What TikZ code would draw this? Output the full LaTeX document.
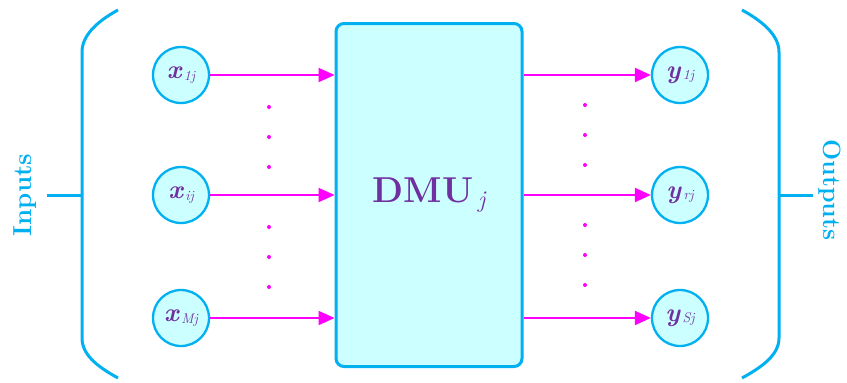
\documentclass[tikz,border=0pt]{standalone}
\usepackage{fontspec}
\usetikzlibrary{arrows.meta}
\definecolor{cy}{RGB}{0,176,240}
\definecolor{cyfill}{RGB}{204,255,255}
\definecolor{mag}{RGB}{255,0,255}
\definecolor{purp}{RGB}{112,48,160}
\newcommand{\varlab}[2]{{\fontsize{26}{26}\selectfont\bfseries\itshape #1}\hspace{2.5pt}\raisebox{-1.5pt}{\fontsize{14}{14}\selectfont\itshape #2}}
\begin{document}
\begin{tikzpicture}[x=1pt,y=-1pt,
  var/.style={circle,draw=cy,fill=cyfill,line width=2.3pt,minimum size=56pt,inner sep=0pt,text=purp},
  brk/.style={draw=cy,line width=3pt},
  flow/.style={draw=mag,line width=2pt,-{Triangle[length=16pt,width=14pt]}},
  dotm/.style={fill=mag}]
\useasboundingbox (0,0) rectangle (847,383);
% box
\node[draw=cy,fill=cyfill,line width=3pt,rounded corners=8pt,minimum width=186pt,minimum height=343pt,inner sep=0pt] (dmu) at (429,195)
  {\color{purp}{\fontsize{36}{36}\selectfont\bfseries DMU}\hspace{5pt}\raisebox{-5pt}{\fontsize{24}{24}\selectfont\itshape j}};
% inputs
\node[var] (x1) at (181,75) {\varlab{x}{1j}};
\node[var] (xi) at (181,195) {\varlab{x}{ij}};
\node[var] (xm) at (181,318) {\varlab{x}{Mj}};
% outputs
\node[var] (y1) at (680,75) {\varlab{y}{1j}};
\node[var] (yr) at (680,195) {\varlab{y}{rj}};
\node[var] (ys) at (680,318) {\varlab{y}{Sj}};
% arrows
\draw[flow] (x1.east) -- (x1.east -| dmu.west);
\draw[flow] (xi.east) -- (xi.east -| dmu.west);
\draw[flow] (xm.east) -- (xm.east -| dmu.west);
\draw[flow] (y1.west -| dmu.east) -- (y1.west);
\draw[flow] (yr.west -| dmu.east) -- (yr.west);
\draw[flow] (ys.west -| dmu.east) -- (ys.west);
% dots
\foreach \yy in {107,137,167,227,257,287} {
  \fill[dotm] (269,\yy) circle (2pt);
  \fill[dotm] (585,\yy-2) circle (2pt);
}
% left bracket
\coordinate (lt) at (82,195);
\draw[brk] (118,10) .. controls (96,22) and (82,36) .. (82,52) -- (82,338) .. controls (82,354) and (96,366) .. (118,378);
\draw[brk] (lt) -- (47,195);
\node[rotate=90,text=cy,font=\fontsize{26}{26}\selectfont\bfseries] (inp) at (25,195) {Inputs};
% right bracket
\coordinate (rt) at (779,195);
\draw[brk] (742,10) .. controls (764,22) and (779,36) .. (779,52) -- (779,338) .. controls (779,354) and (764,366) .. (742,378);
\draw[brk] (rt) -- (813,195);
\node[rotate=-90,text=cy,font=\fontsize{25}{25}\selectfont\bfseries] (outp) at (830,190) {Outputs};
\end{tikzpicture}
\end{document}
